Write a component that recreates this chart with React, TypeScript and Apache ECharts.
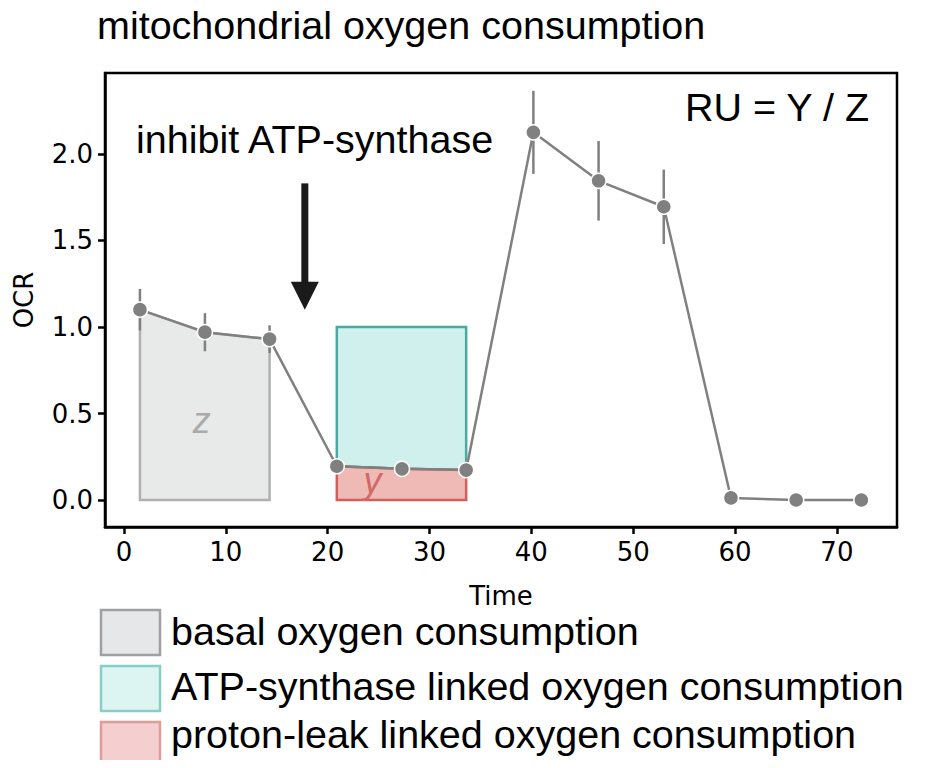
import React, { useEffect, useRef } from "react";
import * as echarts from "echarts";

const times = [1.57, 7.95, 14.3, 20.9, 27.3, 33.6, 40.2, 46.6, 53.0, 59.6, 66.0, 72.4];
const ocr = [1.1, 0.97, 0.93, 0.195, 0.18, 0.173, 2.125, 1.845, 1.695, 0.012, 0.0, 0.0];
const errs = [0.12, 0.11, 0.08, 0.0, 0.0, 0.0, 0.24, 0.23, 0.215, 0.0, 0.0, 0.0];
const xTicks = [0, 10, 20, 30, 40, 50, 60, 70];
const yTicks = [0, 0.5, 1.0, 1.5, 2.0];
const legendNames = [
  "basal oxygen consumption",
  "ATP-synthase linked oxygen consumption",
  "proton-leak linked oxygen consumption",
];
const legendFills = ["#e6e7e8", "#dcf5f2", "#f5cfcf"];
const legendStrokes = ["#a0a0a0", "#88cdc6", "#e09c98"];
const basalIdx = [0, 1, 2];
const inhibIdx = [3, 4, 5];
const atpTop = 1.0;
const arrowX = 17.76;
const arrowFrom = 1.83;
const arrowTo = 1.1;
const zLabel = [7.65, 0.46];
const yLabel = [24.4, 0.11];

export default function App() {
  const ref = useRef<HTMLDivElement>(null);
  useEffect(() => {
    if (!ref.current) return;
    const chart = echarts.init(ref.current, null, { renderer: "svg" });
    const sans = "Liberation Sans, Arial, Helvetica, sans-serif";
    const dv = "DejaVu Sans, sans-serif";
    const big = 39.5;

    const polySeries = (
      name: string,
      fill: string,
      stroke: string,
      ptsFn: () => number[][],
      label?: { pos: number[]; text: string; color: string }
    ) => ({
      type: "custom",
      name,
      coordinateSystem: "cartesian2d",
      itemStyle: { color: fill, borderColor: stroke, borderWidth: 2 },
      data: [[0, 0]],
      z: 1,
      renderItem: (params: any, api: any) => {
        const points = ptsFn().map((p) => api.coord(p));
        const children: any[] = [
          {
            type: "polygon",
            shape: { points },
            style: { fill, stroke, lineWidth: 2.5 },
          },
        ];
        if (label) {
          const c = api.coord(label.pos);
          children.push({
            type: "text",
            x: c[0],
            y: c[1],
            style: {
              text: label.text,
              fill: label.color,
              font: `italic 36px ${sans}`,
              align: "center",
              verticalAlign: "middle",
            },
          });
        }
        return { type: "group", children };
      },
    });

    const basalPts = () => [
      [times[basalIdx[0]], 0],
      ...basalIdx.map((i) => [times[i], ocr[i]]),
      [times[basalIdx[basalIdx.length - 1]], 0],
    ];
    const atpPts = () => [
      [times[inhibIdx[0]], atpTop],
      [times[inhibIdx[inhibIdx.length - 1]], atpTop],
      ...inhibIdx.slice().reverse().map((i) => [times[i], ocr[i]]),
    ];
    const leakPts = () => [
      [times[inhibIdx[0]], 0],
      ...inhibIdx.map((i) => [times[i], ocr[i]]),
      [times[inhibIdx[inhibIdx.length - 1]], 0],
    ];

    const textOffsets = [21, 20, 12];
    const legendGraphics: any[] = [];
    legendNames.forEach((name, i) => {
      const top = 610 + i * 56;
      legendGraphics.push({
        type: "rect",
        shape: { x: 101, y: top, width: 59, height: 45 },
        style: { fill: legendFills[i], stroke: legendStrokes[i], lineWidth: 2.5 },
      });
      legendGraphics.push({
        type: "text",
        x: 171,
        y: top + textOffsets[i],
        style: {
          text: name,
          font: `${big}px ${sans}`,
          fill: "#000",
          verticalAlign: "middle",
          align: "left",
        },
      });
    });

    const option: any = {
      animation: false,
      backgroundColor: "#ffffff",
      grid: {
        left: 105,
        right: 54,
        top: 73,
        bottom: 241,
        show: true,
        borderColor: "#000",
        borderWidth: 2.5,
        containLabel: false,
        outerBoundsMode: "none",
      },
      title: {
        text: "mitochondrial oxygen consumption",
        left: 92,
        top: 0,
        textStyle: { fontFamily: sans, fontSize: big, fontWeight: "normal", color: "#000" },
      },
      xAxis: {
        type: "value",
        min: -1.86,
        max: 75.9,
        name: "Time",
        nameLocation: "middle",
        nameGap: 56,
        nameTextStyle: { fontFamily: dv, fontSize: 26, color: "#000" },
        axisLine: { show: true, onZero: false, lineStyle: { color: "#000", width: 2.5 } },
        axisTick: { show: true, customValues: xTicks, length: 7, lineStyle: { color: "#000", width: 2.5 } },
        axisLabel: { customValues: xTicks, fontFamily: dv, fontSize: 26, color: "#000", margin: 12 },
        splitLine: { show: false },
      },
      yAxis: {
        type: "value",
        min: -0.156,
        max: 2.468,
        name: "OCR",
        nameLocation: "middle",
        nameGap: 68,
        nameTextStyle: { fontFamily: dv, fontSize: 26, color: "#000" },
        axisLine: { show: true, onZero: false, lineStyle: { color: "#000", width: 2.5 } },
        axisTick: { show: true, customValues: yTicks, length: 7, lineStyle: { color: "#000", width: 2.5 } },
        axisLabel: {
          customValues: yTicks,
          fontFamily: dv,
          fontSize: 26,
          color: "#000",
          margin: 12,
          formatter: (v: number) => v.toFixed(1),
        },
        splitLine: { show: false },
      },
      graphic: [
        {
          type: "text",
          left: 136,
          top: 119,
          style: { text: "inhibit ATP-synthase", font: `${big}px ${sans}`, fill: "#000" },
        },
        {
          type: "text",
          left: 685,
          top: 87,
          style: { text: "RU = Y / Z", font: `${big}px ${sans}`, fill: "#000" },
        },
        ...legendGraphics,
      ],
      series: [
        polySeries(legendNames[0], "#e8e9e9", "#b0b0b0", basalPts, { pos: zLabel, text: "z", color: "#aaaaaa" }),
        polySeries(legendNames[1], "#cff0ed", "#4aa9a0", atpPts),
        polySeries(legendNames[2], "#efb9b6", "#d0605a", leakPts, { pos: yLabel, text: "y", color: "#d06a66" }),
        {
          type: "custom",
          name: "err",
          coordinateSystem: "cartesian2d",
          z: 3,
          data: times.map((t, i) => [t, ocr[i] - errs[i], ocr[i] + errs[i]]),
          renderItem: (params: any, api: any) => {
            const lo = api.coord([api.value(0), api.value(1)]);
            const hi = api.coord([api.value(0), api.value(2)]);
            return {
              type: "line",
              shape: { x1: lo[0], y1: lo[1], x2: hi[0], y2: hi[1] },
              style: { stroke: "#808080", lineWidth: 2.5 },
            };
          },
        },
        {
          type: "line",
          name: "OCR",
          z: 4,
          data: times.map((t, i) => [t, ocr[i]]),
          symbol: "circle",
          symbolSize: 15,
          lineStyle: { color: "#808080", width: 2.5 },
          itemStyle: { color: "#808080", borderColor: "#ffffff", borderWidth: 1.5 },
        },
        {
          type: "custom",
          name: "arrow",
          coordinateSystem: "cartesian2d",
          z: 5,
          data: [[arrowX, arrowFrom, arrowTo]],
          renderItem: (params: any, api: any) => {
            const a = api.coord([api.value(0), api.value(1)]);
            const b = api.coord([api.value(0), api.value(2)]);
            const headL = 28;
            const headW = 14;
            return {
              type: "group",
              children: [
                {
                  type: "rect",
                  shape: { x: a[0] - 3.5, y: a[1], width: 7, height: b[1] - a[1] - headL + 1 },
                  style: { fill: "#1a1a1a" },
                },
                {
                  type: "polygon",
                  shape: {
                    points: [
                      [b[0] - headW, b[1] - headL],
                      [b[0] + headW, b[1] - headL],
                      [b[0], b[1]],
                    ],
                  },
                  style: { fill: "#1a1a1a" },
                },
              ],
            };
          },
        },
      ],
    };
    chart.setOption(option);
    return () => chart.dispose();
  }, []);
  return <div ref={ref} style={{ width: 951, height: 768, margin: -8 }} />;
}
